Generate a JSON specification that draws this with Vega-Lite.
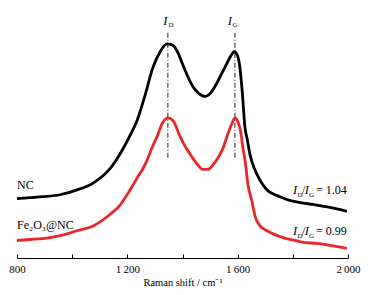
{
  "$schema": "https://vega.github.io/schema/vega-lite/v6.json",
  "width": 331,
  "height": 253,
  "autosize": "none",
  "padding": {"left": 17, "top": 5, "right": 21, "bottom": 37},
  "background": "white",
  "config": {"view": {"stroke": null}, "font": "Liberation Serif"},
  "layer": [
    {
      "data": {"values": [{"x": 1347, "y": 103, "y2": 233}, {"x": 1590, "y": 103, "y2": 233}]},
      "mark": {"type": "rule", "color": "#222222", "strokeWidth": 1, "strokeDash": [5, 2, 1, 2]},
      "encoding": {
        "x": {"field": "x", "type": "quantitative", "scale": {"domain": [800, 2000], "nice": false}},
        "y": {"field": "y", "type": "quantitative", "scale": {"domain": [0, 253]}, "axis": null},
        "y2": {"field": "y2"}
      }
    },
    {
      "data": {"values": [
      {"s": "NC", "x": 800, "y": 61}, {"s": "NC", "x": 847, "y": 62}, {"s": "NC", "x": 894, "y": 63}, {"s": "NC", "x": 956, "y": 65},
      {"s": "NC", "x": 1018, "y": 70}, {"s": "NC", "x": 1076, "y": 77}, {"s": "NC", "x": 1138, "y": 92}, {"s": "NC", "x": 1184, "y": 112},
      {"s": "NC", "x": 1210, "y": 126}, {"s": "NC", "x": 1235, "y": 141}, {"s": "NC", "x": 1264, "y": 167}, {"s": "NC", "x": 1293, "y": 196},
      {"s": "NC", "x": 1319, "y": 212}, {"s": "NC", "x": 1344, "y": 220}, {"s": "NC", "x": 1362, "y": 219}, {"s": "NC", "x": 1380, "y": 213},
      {"s": "NC", "x": 1402, "y": 198}, {"s": "NC", "x": 1420, "y": 186}, {"s": "NC", "x": 1438, "y": 176}, {"s": "NC", "x": 1460, "y": 169},
      {"s": "NC", "x": 1482, "y": 166}, {"s": "NC", "x": 1503, "y": 170}, {"s": "NC", "x": 1525, "y": 180}, {"s": "NC", "x": 1543, "y": 190},
      {"s": "NC", "x": 1561, "y": 200}, {"s": "NC", "x": 1576, "y": 208}, {"s": "NC", "x": 1587, "y": 212}, {"s": "NC", "x": 1598, "y": 209},
      {"s": "NC", "x": 1608, "y": 196}, {"s": "NC", "x": 1616, "y": 173}, {"s": "NC", "x": 1627, "y": 133}, {"s": "NC", "x": 1634, "y": 123},
      {"s": "NC", "x": 1645, "y": 106}, {"s": "NC", "x": 1659, "y": 93}, {"s": "NC", "x": 1670, "y": 86}, {"s": "NC", "x": 1692, "y": 75},
      {"s": "NC", "x": 1710, "y": 69}, {"s": "NC", "x": 1728, "y": 66}, {"s": "NC", "x": 1753, "y": 63}, {"s": "NC", "x": 1779, "y": 60},
      {"s": "NC", "x": 1826, "y": 57}, {"s": "NC", "x": 1873, "y": 55}, {"s": "NC", "x": 1935, "y": 52}, {"s": "NC", "x": 1996, "y": 48},
      {"s": "Fe", "x": 800, "y": 18}, {"s": "Fe", "x": 847, "y": 19}, {"s": "Fe", "x": 894, "y": 20}, {"s": "Fe", "x": 956, "y": 23},
      {"s": "Fe", "x": 1018, "y": 28}, {"s": "Fe", "x": 1076, "y": 33}, {"s": "Fe", "x": 1138, "y": 45}, {"s": "Fe", "x": 1173, "y": 54},
      {"s": "Fe", "x": 1199, "y": 65}, {"s": "Fe", "x": 1221, "y": 75}, {"s": "Fe", "x": 1239, "y": 84}, {"s": "Fe", "x": 1257, "y": 92},
      {"s": "Fe", "x": 1271, "y": 100}, {"s": "Fe", "x": 1289, "y": 113}, {"s": "Fe", "x": 1308, "y": 125}, {"s": "Fe", "x": 1326, "y": 138},
      {"s": "Fe", "x": 1347, "y": 144}, {"s": "Fe", "x": 1366, "y": 141}, {"s": "Fe", "x": 1391, "y": 125}, {"s": "Fe", "x": 1409, "y": 115},
      {"s": "Fe", "x": 1427, "y": 107}, {"s": "Fe", "x": 1449, "y": 98}, {"s": "Fe", "x": 1474, "y": 91}, {"s": "Fe", "x": 1492, "y": 91},
      {"s": "Fe", "x": 1511, "y": 96}, {"s": "Fe", "x": 1529, "y": 103}, {"s": "Fe", "x": 1547, "y": 113}, {"s": "Fe", "x": 1565, "y": 128},
      {"s": "Fe", "x": 1579, "y": 138}, {"s": "Fe", "x": 1590, "y": 144}, {"s": "Fe", "x": 1601, "y": 140}, {"s": "Fe", "x": 1612, "y": 128},
      {"s": "Fe", "x": 1619, "y": 113}, {"s": "Fe", "x": 1627, "y": 100}, {"s": "Fe", "x": 1637, "y": 76}, {"s": "Fe", "x": 1652, "y": 58},
      {"s": "Fe", "x": 1663, "y": 43}, {"s": "Fe", "x": 1681, "y": 33}, {"s": "Fe", "x": 1706, "y": 28}, {"s": "Fe", "x": 1735, "y": 24},
      {"s": "Fe", "x": 1764, "y": 21}, {"s": "Fe", "x": 1808, "y": 18}, {"s": "Fe", "x": 1837, "y": 16}, {"s": "Fe", "x": 1888, "y": 15},
      {"s": "Fe", "x": 1935, "y": 13}, {"s": "Fe", "x": 1996, "y": 10}
      ]},
      "mark": {"type": "line", "strokeWidth": 2.8, "interpolate": "monotone"},
      "encoding": {
        "x": {
          "field": "x", "type": "quantitative", "scale": {"domain": [800, 2000], "nice": false},
          "axis": {
            "title": "Raman shift / cm⁻¹",
            "values": [800, 1000, 1200, 1400, 1600, 1800, 2000],
            "labelExpr": "datum.value % 400 == 0 ? replace(format(datum.value, ','), ',', '\u2009') : ''",
            "grid": false,
            "domainColor": "#000000", "domainWidth": 1,
            "tickColor": "#000000", "tickSize": -4, "tickWidth": 1,
            "labelPadding": 9, "labelFont": "Liberation Serif", "labelFontSize": 11, "labelColor": "#000000",
            "labelFlush": false, "labelOverlap": false,
            "titleFont": "Liberation Serif", "titleFontSize": 10.5, "titleFontWeight": "normal", "titleColor": "#000000",
            "titlePadding": 3
          }
        },
        "y": {"field": "y", "type": "quantitative", "scale": {"domain": [0, 253]}, "axis": null},
        "color": {"field": "s", "type": "nominal", "scale": {"domain": ["NC", "Fe"], "range": ["#000000", "#e8272b"]}, "legend": null}
      }
    },
    {
      "data": {"values": [
        {"x": 1338, "y": 244}, {"x": 1572, "y": 244},
        {"x": 1808, "y": 70}, {"x": 1851, "y": 70},
        {"x": 1808, "y": 28}, {"x": 1851, "y": 28}
      ]},
      "mark": {"type": "text", "text": "I", "font": "Liberation Serif", "fontStyle": "italic", "fontSize": 12.5, "align": "center", "baseline": "middle", "color": "#000000"},
      "encoding": {
        "x": {"field": "x", "type": "quantitative"},
        "y": {"field": "y", "type": "quantitative"}
      }
    },
    {
      "data": {"values": [
        {"x": 1358, "y": 239, "t": "D"}, {"x": 1590, "y": 239, "t": "G"},
        {"x": 1826, "y": 65, "t": "D"}, {"x": 1868, "y": 65, "t": "G"},
        {"x": 1826, "y": 23, "t": "D"}, {"x": 1868, "y": 23, "t": "G"}
      ]},
      "mark": {"type": "text", "font": "Liberation Serif", "fontSize": 7, "align": "center", "baseline": "middle", "color": "#000000"},
      "encoding": {
        "x": {"field": "x", "type": "quantitative"},
        "y": {"field": "y", "type": "quantitative"},
        "text": {"field": "t", "type": "nominal"}
      }
    },
    {
      "data": {"values": [
        {"x": 1833, "y": 70, "t": "/"}, {"x": 1884, "y": 70, "t": "= 1.04"},
        {"x": 1833, "y": 28, "t": "/"}, {"x": 1884, "y": 28, "t": "= 0.99"},
        {"x": 800, "y": 75, "t": "NC"}, {"x": 800, "y": 34, "t": "Fe₂O₃@NC"}
      ]},
      "mark": {"type": "text", "font": "Liberation Serif", "fontSize": 12, "align": "left", "baseline": "middle", "color": "#000000"},
      "encoding": {
        "x": {"field": "x", "type": "quantitative"},
        "y": {"field": "y", "type": "quantitative"},
        "text": {"field": "t", "type": "nominal"}
      }
    }
  ]
}
